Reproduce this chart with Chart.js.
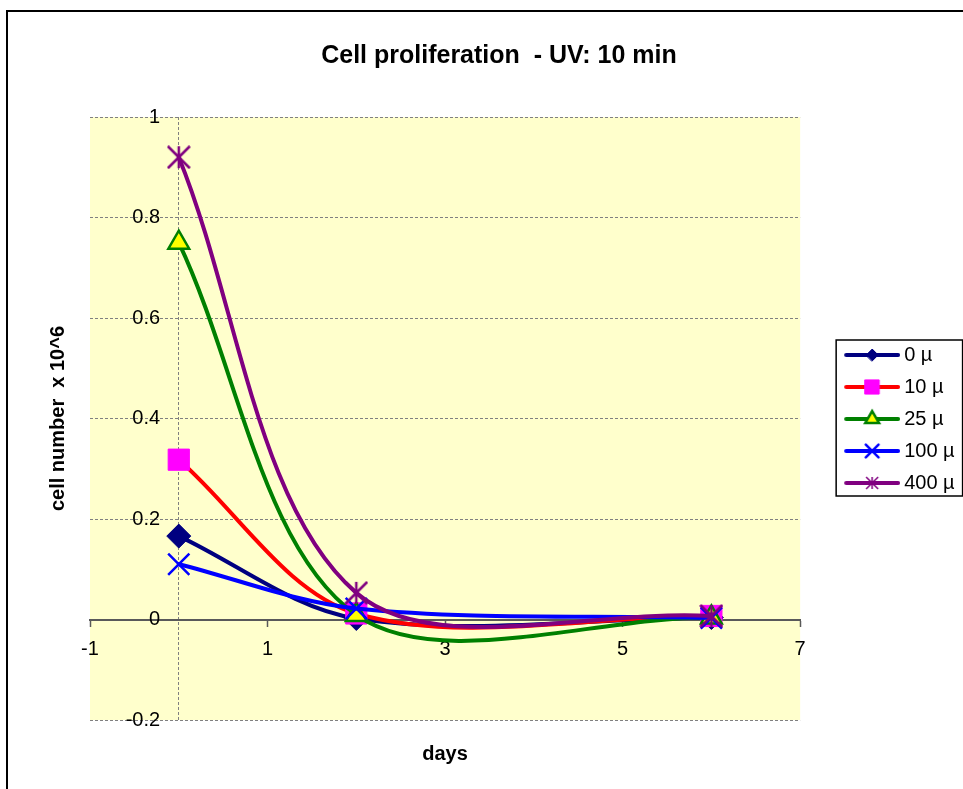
<!DOCTYPE html>
<html>
<head>
<meta charset="utf-8">
<title>Cell proliferation - UV: 10 min</title>
<script src="https://cdn.jsdelivr.net/npm/chart.js@4.4.1/dist/chart.umd.min.js"></script>
<style>
  html, body { margin: 0; padding: 0; background: #fff; overflow: hidden; }
  #frame { position: absolute; left: 6px; top: 10px; width: 1000px; height: 810px; border: 2px solid #000; }
  #chart { position: absolute; left: 0; top: 0; }
</style>
</head>
<body>
<div id="frame"><canvas id="chart" width="984" height="790"></canvas></div>
<script>
// Cell counts (x 10^6) after 10 min UV, per concentration
const days = [0, 2, 6];
const seriesLabels = ['0 µ', '10 µ', '25 µ', '100 µ', '400 µ'];
const cells0 = [0.166, 0.002, 0.004];
const cells10 = [0.318, 0.012, 0.007];
const cells25 = [0.75, 0.009, 0.004];
const cells100 = [0.11, 0.022, 0.003];
const cells400 = [0.92, 0.053, 0.007];
const dayTicks = [-1, 1, 3, 5, 7];
const cellTicks = [-0.2, 0, 0.2, 0.4, 0.6, 0.8, 1];

Chart.defaults.font.family = "'Liberation Sans', Arial, sans-serif";
Chart.defaults.color = '#000';

// six-spoke star (x plus a vertical bar)
function starMarker(size, color, width) {
    const c = document.createElement('canvas');
    c.width = c.height = size;
    const g = c.getContext('2d');
    const a = 1, b = size - 1, m = size / 2;
    g.strokeStyle = color;
    g.lineWidth = width;
    g.beginPath();
    g.moveTo(a, a); g.lineTo(b, b);
    g.moveTo(b, a); g.lineTo(a, b);
    g.moveTo(m, a); g.lineTo(m, b);
    g.stroke();
    return c;
}

const styles = [
    { line: '#000080', fill: '#000080', edge: '#000080', point: 'rectRot', radius: 12, edgeWidth: 1, legendPoint: 'rectRot', legendRadius: 6 },
    { line: '#FF0000', fill: '#FF00FF', edge: '#FF00FF', point: 'rect', radius: 15, edgeWidth: 1, legendPoint: 'rect', legendRadius: 10 },
    { line: '#008000', fill: '#FFFF00', edge: '#008000', point: 'triangle', radius: 12, edgeWidth: 2.5, legendPoint: 'triangle', legendRadius: 8 },
    { line: '#0000FF', fill: '#0000FF', edge: '#0000FF', point: 'crossRot', radius: 15, edgeWidth: 2.5, legendPoint: 'crossRot', legendRadius: 9 },
    { line: '#800080', fill: '#800080', edge: '#800080', point: starMarker(24, '#800080', 2.5), radius: 12, edgeWidth: 2.5, legendPoint: starMarker(14, '#800080', 1.5), legendRadius: 7 }
];

// legend sample: short line with the marker in the middle
function legendIcon(s) {
    const c = document.createElement('canvas');
    c.width = 94;
    c.height = 24;
    const g = c.getContext('2d');
    g.strokeStyle = s.line;
    g.lineWidth = 4;
    g.lineCap = 'round';
    g.beginPath();
    g.moveTo(40, 12);
    g.lineTo(92, 12);
    g.stroke();
    g.fillStyle = s.fill;
    g.strokeStyle = s.edge;
    g.lineWidth = s.edgeWidth;
    Chart.helpers.drawPoint(g, { pointStyle: s.legendPoint, radius: s.legendRadius, rotation: 0, borderWidth: s.edgeWidth }, 66, 12);
    return c;
}

const values = [cells0, cells10, cells25, cells100, cells400];
const datasets = values.map((vals, i) => {
    const s = styles[i];
    return {
        label: seriesLabels[i],
        data: days.map((d, k) => ({ x: d, y: vals[k] })),
        showLine: true,
        fill: false,
        tension: 0.33,
        borderColor: s.line,
        borderWidth: 4,
        borderCapStyle: 'round',
        borderJoinStyle: 'round',
        pointStyle: s.point,
        pointRadius: s.radius,
        pointHoverRadius: s.radius,
        pointBackgroundColor: s.fill,
        pointBorderColor: s.edge,
        pointBorderWidth: s.edgeWidth,
        order: values.length - i
    };
});
const icons = styles.map(legendIcon);

const titleFont = { size: 20, weight: 'bold' };
const tickFont = { size: 20 };
const tickText = v => String(Math.round(v * 10) / 10);
const legendIconWidth = 82;

const plotBackground = {
    id: 'plotBackground',
    beforeDraw(chart) {
        const { ctx, chartArea: a } = chart;
        ctx.save();
        ctx.fillStyle = '#FFFFCC';
        ctx.fillRect(a.left, a.top, a.right - a.left, a.bottom - a.top);
        ctx.restore();
    }
};

// thin box around the legend entries
const legendFrame = {
    id: 'legendFrame',
    afterDraw(chart) {
        const boxes = chart.legend.legendHitBoxes;
        if (!boxes || !boxes.length) return;
        const ctx = chart.ctx;
        ctx.save();
        ctx.font = Chart.helpers.toFont(tickFont).string;
        const textWidth = Math.max(...chart.data.datasets.map(ds => ctx.measureText(ds.label).width));
        const first = boxes[0], last = boxes[boxes.length - 1];
        const left = first.left + 24;
        const right = first.left + legendIconWidth + tickFont.size / 2 + textWidth + 8;
        const top = first.top - 5;
        const bottom = last.top + last.height + 3;
        ctx.strokeStyle = '#000';
        ctx.lineWidth = 1.5;
        ctx.strokeRect(left, top, right - left, bottom - top);
        ctx.restore();
    }
};

new Chart(document.getElementById('chart'), {
    type: 'scatter',
    data: { datasets },
    options: {
        responsive: false,
        animation: false,
        layout: { padding: { left: 25.4, right: 27.4, top: 0, bottom: 0 } },
        plugins: {
            title: {
                display: true,
                text: 'Cell proliferation  - UV: 10 min',
                font: { size: 25, weight: 'bold' },
                color: '#000',
                padding: { top: 29, bottom: 46 }
            },
            legend: {
                position: 'right',
                maxWidth: 200,
                // empty title only pushes the entries down a little
                title: { display: true, text: '', font: { size: 20 }, padding: 0 },
                labels: {
                    usePointStyle: true,
                    pointStyleWidth: legendIconWidth,
                    padding: 12,
                    font: tickFont,
                    color: '#000',
                    generateLabels: chart => chart.data.datasets.map((ds, i) => ({
                        text: ds.label,
                        pointStyle: icons[i],
                        fillStyle: ds.borderColor,
                        strokeStyle: ds.borderColor,
                        lineWidth: 0,
                        hidden: false,
                        datasetIndex: i,
                        fontColor: '#000'
                    }))
                }
            },
            tooltip: { enabled: false }
        },
        scales: {
            // bottom scale: axis title and the dashed line at day 0
            x: {
                type: 'linear',
                position: 'bottom',
                min: dayTicks[0],
                max: dayTicks[dayTicks.length - 1],
                ticks: { display: false },
                afterBuildTicks: s => { s.ticks = [{ value: 0 }]; },
                grid: { color: '#808080', lineWidth: 1, drawTicks: false },
                border: { display: false, dash: [3, 2] },
                title: { display: true, text: 'days', font: titleFont, color: '#000', padding: { top: 22, bottom: 36 } }
            },
            // value axis crossing at y = 0
            xAxis: {
                type: 'linear',
                axis: 'x',
                position: { y: 0 },
                min: dayTicks[0],
                max: dayTicks[dayTicks.length - 1],
                ticks: { stepSize: dayTicks[1] - dayTicks[0], font: tickFont, color: '#000', padding: 12 },
                grid: { drawOnChartArea: false, tickLength: 6, tickColor: '#595959', tickWidth: 1.5 },
                border: { color: '#595959', width: 2 }
            },
            // left scale: axis title and horizontal gridlines
            y: {
                type: 'linear',
                position: 'left',
                min: cellTicks[0],
                max: cellTicks[cellTicks.length - 1],
                ticks: { display: false, stepSize: cellTicks[1] - cellTicks[0] },
                grid: { color: '#808080', lineWidth: 1, drawTicks: false },
                border: { display: false, dash: [3, 2] },
                title: { display: true, text: 'cell number  x 10^6', font: titleFont, color: '#000', padding: { top: 12.6, bottom: 20 } }
            },
            // tick labels, right-aligned just left of the day 0 line
            yAxis: {
                type: 'linear',
                axis: 'y',
                position: { x: -0.21 },
                min: cellTicks[0],
                max: cellTicks[cellTicks.length - 1],
                ticks: { stepSize: cellTicks[1] - cellTicks[0], font: tickFont, color: '#000', callback: tickText },
                grid: { display: false, drawTicks: false },
                border: { display: false }
            }
        }
    },
    plugins: [plotBackground, legendFrame]
});
</script>
</body>
</html>
